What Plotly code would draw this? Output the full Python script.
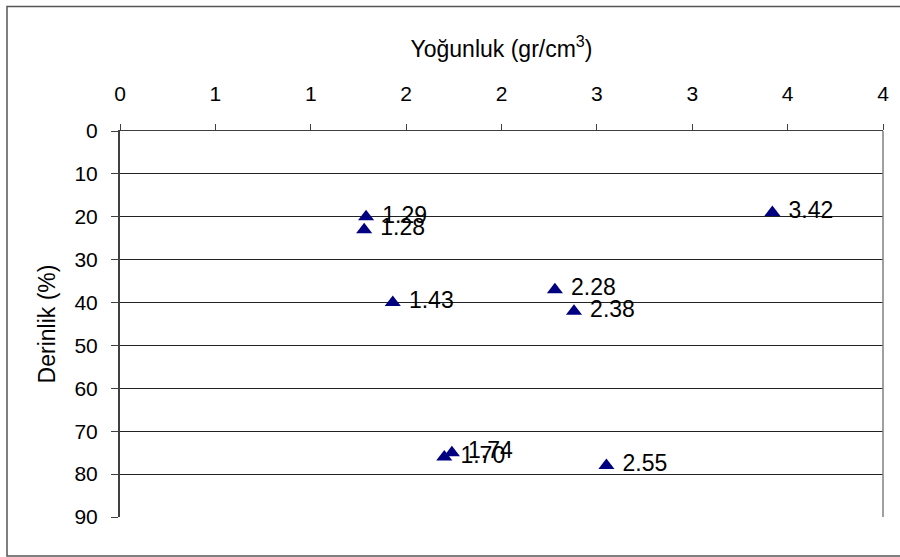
import plotly.graph_objects as go

# Density (gr/cm3) and depth (%) of samples
density = [1.29, 1.28, 1.43, 2.28, 2.38, 3.42, 1.74, 1.70, 2.55]
depth = [20, 23, 40, 37, 42, 19, 75, 76, 78]

# Top axis ticks every 0.5, labelled with whole numbers
x_tickvals = [0, 0.5, 1, 1.5, 2, 2.5, 3, 3.5, 4]
x_ticktext = ["0", "1", "1", "2", "2", "3", "3", "4", "4"]
y_tickvals = [0, 10, 20, 30, 40, 50, 60, 70, 80, 90]

FONT = "Liberation Sans, Arial, sans-serif"
W, H = 900, 557
L, R, T, B = 120, 17, 131, 40
pw, ph = W - L - R, H - T - B


def px_x(p):
    return (p - L) / pw


def px_y(p):
    return (H - B - p) / ph


fig = go.Figure()
fig.add_trace(go.Scatter(
    x=density, y=depth,
    mode="markers+text",
    marker=dict(symbol="triangle-up", size=14, color="#000080"),
    text=["\u00a0" + f"{v:.2f}" for v in density],
    textposition="middle right",
    textfont=dict(family=FONT, size=23, color="#000000"),
    cliponaxis=False,
    showlegend=False,
))

fig.update_layout(
    width=W, height=H,
    margin=dict(l=L, r=R, t=T, b=B),
    paper_bgcolor="white",
    plot_bgcolor="white",
    font=dict(family=FONT, size=21, color="#000000"),
    xaxis=dict(
        side="top", range=[0, 4],
        tickmode="array", tickvals=x_tickvals, ticktext=x_ticktext,
        ticks="outside", ticklen=6, tickcolor="#404040",
        showline=True, linecolor="#404040", linewidth=1,
        showgrid=False, zeroline=False,
        ticklabelstandoff=15,
        tickfont=dict(family=FONT, size=21),
        title=dict(text="Yoğunluk (gr/cm<sup>3</sup>)",
                   font=dict(family=FONT, size=23), standoff=17),
    ),
    yaxis=dict(
        range=[90, 0],
        tickmode="array", tickvals=y_tickvals,
        ticks="outside", ticklen=7, tickcolor="#404040",
        showline=True, linecolor="#404040", linewidth=2,
        showgrid=True, gridcolor="#222222", gridwidth=1,
        zeroline=False,
        ticklabelstandoff=9,
        tickfont=dict(family=FONT, size=21),
        title=dict(text="Derinlik (%)",
                   font=dict(family=FONT, size=23), standoff=12),
    ),
    shapes=[
        # right edge of the plot area
        dict(type="line", xref="paper", yref="paper",
             x0=1, x1=1, y0=0, y1=1,
             line=dict(color="#808080", width=1.5)),
        # chart frame
        dict(type="rect", xref="paper", yref="paper",
             x0=px_x(7), x1=px_x(906), y0=px_y(556), y1=px_y(6.5),
             line=dict(color="#555555", width=1.5), layer="below"),
    ],
)

fig.write_html("out.html")
